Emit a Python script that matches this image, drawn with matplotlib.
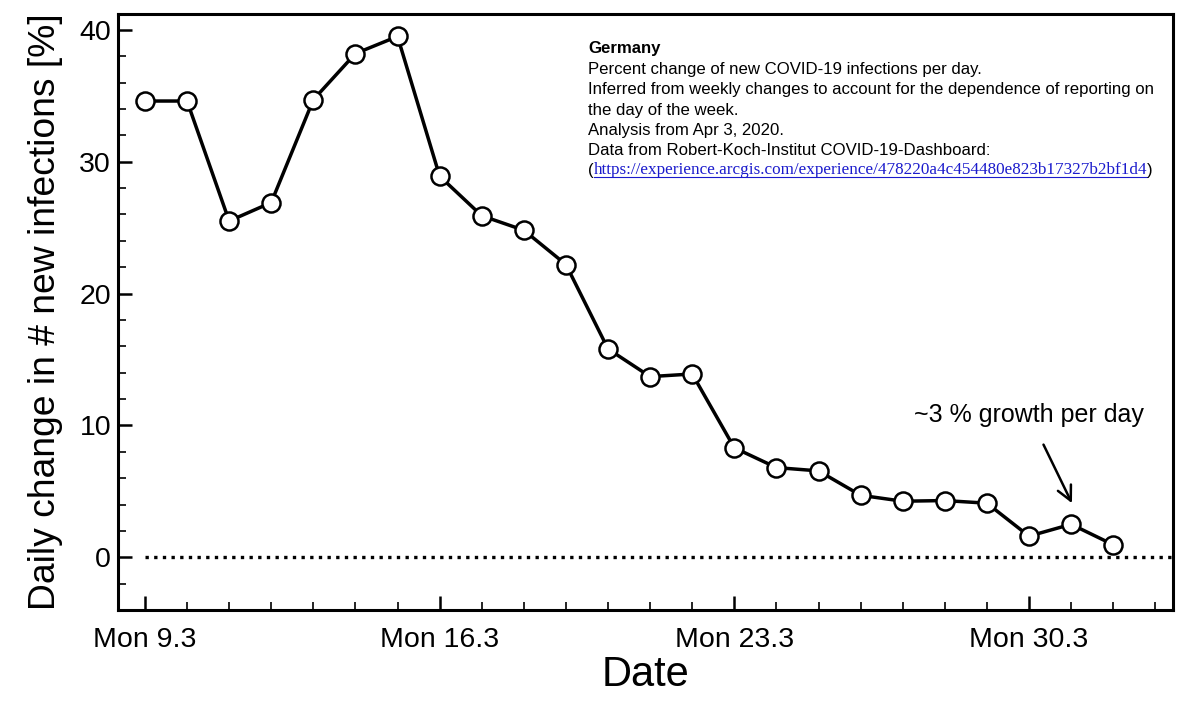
import numpy as np
import matplotlib
matplotlib.use("Agg")
import matplotlib.pyplot as plt
from matplotlib.ticker import MultipleLocator
from matplotlib.lines import Line2D

# daily values, 9.3. .. 1.4.
days = ["9.3", "10.3", "11.3", "12.3", "13.3", "14.3", "15.3", "16.3",
        "17.3", "18.3", "19.3", "20.3", "21.3", "22.3", "23.3", "24.3",
        "25.3", "26.3", "27.3", "28.3", "29.3", "30.3", "31.3", "1.4"]
change = [34.6, 34.6, 25.5, 26.9, 34.7, 38.2, 39.5, 28.9,
          25.9, 24.8, 22.2, 15.8, 13.7, 13.9, 8.3, 6.8,
          6.55, 4.7, 4.25, 4.3, 4.1, 1.6, 2.5, 0.95]
tick_pos = [0, 7, 14, 21]
tick_labels = ["Mon 9.3", "Mon 16.3", "Mon 23.3", "Mon 30.3"]

info_lines = ["Percent change of new COVID-19 infections per day.",
              "Inferred from weekly changes to account for the dependence of reporting on",
              "the day of the week.",
              "Analysis from Apr 3, 2020.",
              "Data from Robert-Koch-Institut COVID-19-Dashboard:"]
link = "https://experience.arcgis.com/experience/478220a4c454480e823b17327b2bf1d4"

plt.rcParams['font.family'] = ['Liberation Sans', 'DejaVu Sans']

W, H = 1200, 706
fig = plt.figure(figsize=(12, 7.06), dpi=100)
ax = fig.add_axes([118 / W, 1 - 610 / H, (1173 - 118) / W, (610 - 14) / H])

x = np.arange(len(change))
ax.plot(x, change, color='black', lw=2.5, marker='o', markersize=13,
        markerfacecolor='white', markeredgecolor='black', markeredgewidth=1.8, zorder=3)
ax.plot([0, 24.42], [0, 0], color='black', lw=2.4, linestyle=(0, (1, 1.6)), zorder=2)

ax.set_xlim(-0.64, 24.42)
ax.set_ylim(-4.0, 41.2)
ax.set_xticks(tick_pos)
ax.set_xticklabels(tick_labels)
ax.xaxis.set_minor_locator(MultipleLocator(1))
ax.yaxis.set_major_locator(MultipleLocator(10))
ax.yaxis.set_minor_locator(MultipleLocator(2))
ax.tick_params(which='major', direction='in', length=10, width=1.8, labelsize=20.5)
ax.tick_params(axis='x', which='major', pad=12)
ax.tick_params(axis='y', which='major', pad=5)
ax.tick_params(which='minor', direction='in', length=6, width=1.2)
for s in ax.spines.values():
    s.set_linewidth(2.2)

ax.set_xlabel("Date", fontsize=30, labelpad=2)
ax.set_ylabel("Daily change in # new infections [%]", fontsize=26.8, labelpad=12)

ax.annotate("~3 % growth per day", xy=(22.02, 4.1), xytext=(21.0, 10.8),
            fontsize=18, ha='center', va='center',
            arrowprops=dict(arrowstyle='->', lw=1.8, color='black',
                            mutation_scale=26, shrinkA=12, shrinkB=0))

# info text block top right
x0 = 588 / W
fs = 12.1
fig.text(x0, 1 - 48 / H, "Germany", fontsize=fs, fontweight='bold', va='center')
for i, line in enumerate(info_lines):
    fig.text(x0, 1 - (69.5 + 20.3 * i) / H, line, fontsize=fs, va='center')
yl = 1 - 170.5 / H
t1 = fig.text(x0, yl, "(", fontsize=fs, va='center')
fig.canvas.draw()
r = fig.canvas.get_renderer()
bb = t1.get_window_extent(r)
t2 = fig.text(bb.x1 / W, yl, link, fontsize=12.3, va='center', color='#1a1acc',
              family='Liberation Serif')
bb2 = t2.get_window_extent(r)
fig.text(bb2.x1 / W, yl, ")", fontsize=fs, va='center')
uy = (bb2.y0 + 1.5) / H
fig.add_artist(Line2D([bb2.x0 / W, bb2.x1 / W], [uy, uy], color='#1a1acc', lw=0.8,
                      transform=fig.transFigure))

fig.savefig("out.png", dpi=100)
